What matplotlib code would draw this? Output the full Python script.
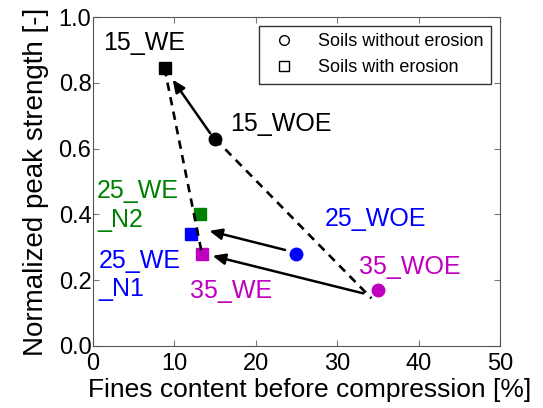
import matplotlib
matplotlib.use("Agg")
import matplotlib.pyplot as plt
from matplotlib.lines import Line2D

plt.rcParams["font.family"] = ["Liberation Sans", "DejaVu Sans"]

# --- data ---
names = ["15_WOE", "25_WOE", "35_WOE", "15_WE", "25_WE_N2", "25_WE_N1", "35_WE"]
fines = [15.0, 25.0, 35.0, 8.8, 13.1, 12.0, 13.4]
strength = [0.63, 0.28, 0.17, 0.845, 0.40, 0.34, 0.28]
markers = ["o", "o", "o", "s", "s", "s", "s"]
colors = ["k", "b", "m", "k", "g", "b", "m"]

# label text and anchor (left edge, vertical centre)
label_text = ["15_WOE", "25_WOE", "35_WOE", "15_WE", "25_WE\n_N2", "25_WE\n_N1", "35_WE"]
label_x = [16.9, 28.5, 32.7, 1.2, 0.5, 0.7, 11.9]
label_y = [0.675, 0.386, 0.241, 0.92, 0.428, 0.216, 0.168]

# dashed envelope lines
env1_x, env1_y = [8.8, 13.4], [0.845, 0.28]
env2_x, env2_y = [15.0, 34.2], [0.63, 0.145]

# arrows: start (x, y) -> end (x, y)
arrow_start = [(14.4, 0.647), (23.6, 0.292), (33.2, 0.16)]
arrow_end = [(9.8, 0.81), (14.3, 0.35), (14.7, 0.274)]

fig = plt.figure(figsize=(5.43, 4.08), dpi=100)
ax = fig.add_axes([0.171, 0.152, 0.750, 0.806])

for x, y, m, c in zip(fines, strength, markers, colors):
    ax.plot(x, y, marker=m, color=c, markersize=9, ls="none", mec=c, zorder=2)

ax.plot(env1_x, env1_y, "k--", lw=1.9, dashes=(3.2, 2.4), zorder=3)
ax.plot(env2_x, env2_y, "k--", lw=1.9, dashes=(3.2, 2.4), zorder=3)

for (x0, y0), (x1, y1) in zip(arrow_start, arrow_end):
    ax.annotate("", xy=(x1, y1), xytext=(x0, y0),
                arrowprops=dict(arrowstyle="-|>,head_length=0.5,head_width=0.22",
                                color="k", lw=1.8, mutation_scale=15,
                                shrinkA=0, shrinkB=0))

for t, x, y, c in zip(label_text, label_x, label_y, colors):
    ax.text(x, y, t, color=c, fontsize=18, ha="left", va="center", linespacing=1.25)

handles = [Line2D([], [], marker="o", ls="none", mfc="none", mec="k", markersize=7),
           Line2D([], [], marker="s", ls="none", mfc="none", mec="k", markersize=7)]
leg = ax.legend(handles, ["Soils without erosion", "Soils with erosion"],
                loc="upper right", fontsize=13, fancybox=False, edgecolor="#333333",
                borderaxespad=0.5, handletextpad=0.9, framealpha=1)
leg.get_frame().set_linewidth(1.0)

ax.set_xlim(0, 50)
ax.set_ylim(0, 1.0)
ax.set_xticks([0, 10, 20, 30, 40, 50])
ax.set_yticks([0.0, 0.2, 0.4, 0.6, 0.8, 1.0])
ax.set_yticklabels(["0.0", "0.2", "0.4", "0.6", "0.8", "1.0"])
ax.tick_params(direction="in", top=True, right=True, labelsize=17, length=4,
               color="#777777")
ax.tick_params(axis="x", pad=5)
ax.tick_params(axis="y", pad=1)
for s in ax.spines.values():
    s.set_color("#555555")
ax.set_xlabel("Fines content before compression [%]", fontsize=19)
ax.set_ylabel("Normalized peak strength [-]", fontsize=20)
ax.xaxis.set_label_coords(0.533, -0.098)
ax.yaxis.set_label_coords(-0.107, 0.5)

fig.savefig("out.png", dpi=100)
